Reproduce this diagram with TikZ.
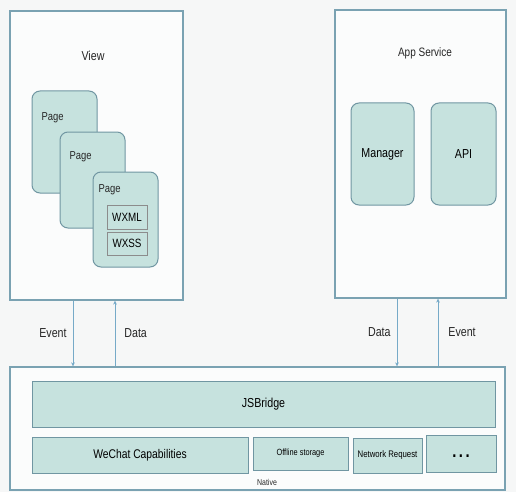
\documentclass[tikz,border=0pt]{standalone}
\usepackage{fontspec}
\setmainfont{Liberation Sans}[FakeStretch=0.82]
\usetikzlibrary{arrows.meta,calc}
\definecolor{frame}{RGB}{122,162,178}
\definecolor{cell}{RGB}{198,226,222}
\definecolor{celledge}{RGB}{112,150,162}
\definecolor{wire}{RGB}{118,170,200}
\definecolor{paper}{RGB}{246,247,247}

\begin{document}
\begin{tikzpicture}[
  x=1pt, y=-1pt,
  font=\fontsize{13}{15}\selectfont,
  >={Stealth[length=4pt,width=3.6pt]},
  outer/.style   ={rectangle, draw=frame, line width=1.3pt, fill=white!60!paper, inner sep=0pt},
  pagebox/.style ={rectangle, rounded corners=8pt, draw=celledge, line width=1pt, fill=cell, inner sep=0pt},
  tagbox/.style  ={rectangle, draw=black!45, line width=0.9pt, fill=cell, inner sep=0pt, minimum width=40pt},
  native/.style  ={rectangle, draw=celledge, line width=1pt, fill=cell, inner sep=0pt},
  lbl/.style     ={inner sep=0pt, text=black!85},
  pglbl/.style   ={lbl, anchor=west, font=\fontsize{11.5}{13}\selectfont},
  flow/.style    ={->, draw=wire, line width=0.8pt},
]
\useasboundingbox[fill=paper] (0,0) rectangle (516,492);
% upper layers
\node[outer, minimum width=173pt, minimum height=289pt] (view) at (96.5,155.5) {};
\node[lbl] (viewlbl) at (93,56) {View};
\node[outer, minimum width=171pt, minimum height=288pt] (app) at (420.5,154) {};
\node[lbl, font=\fontsize{12.2}{14}\selectfont] (applbl) at (425,53) {App Service};
% pages
\node[pagebox, minimum width=65pt, minimum height=102pt] (page1) at (64.5,142) {};
\node[pglbl] (page1lbl) at ([shift={(10pt,-27pt)}]page1.north west) {Page};
\node[pagebox, minimum width=65pt, minimum height=96pt] (page2) at (92.5,180) {};
\node[pglbl] (page2lbl) at ([shift={(10pt,-25pt)}]page2.north west) {Page};
\node[pagebox, minimum width=65pt, minimum height=95pt] (page3) at (125.5,219.5) {};
\node[pglbl] (page3lbl) at ([shift={(6pt,-18pt)}]page3.north west) {Page};
\node[tagbox, minimum height=24pt, font=\fontsize{12}{14}\selectfont] (wxml) at (127,217) {WXML};
\node[tagbox, minimum height=23pt, font=\fontsize{12}{14}\selectfont] (wxss) at (127,243.5) {WXSS};
% app service modules
\node[pagebox, minimum width=63pt, minimum height=102pt] (manager) at (382.5,154) {Manager};
\node[pagebox, minimum width=65pt, minimum height=102pt] (api) at (463.5,154) {API};
% native layer
\node[outer, minimum width=495pt, minimum height=123pt] (base) at (257.5,428.5) {};
\node[native, minimum width=463pt, minimum height=46pt] (bridge) at (263.5,404) {JSBridge};
\node[native, minimum width=216pt, minimum height=36pt, font=\fontsize{12.6}{14}\selectfont] (wechat) at (140,455) {WeChat Capabilities};
\node[native, minimum width=95pt, minimum height=33pt, font=\fontsize{9}{10}\selectfont] (offline) at (300.5,453.5) {Offline storage};
\node[native, minimum width=69pt, minimum height=35pt, font=\fontsize{9.5}{10}\selectfont] (network) at (387.5,455.5) {Network Request};
\node[native, minimum width=70pt, minimum height=37pt, font=\fontsize{18}{18}\bfseries] (more) at (461,453.5) {\raisebox{-8pt}{.\hspace{2.5pt}.\hspace{2.5pt}.}};
\node[lbl, font=\fontsize{8.5}{9}\selectfont] (nativelbl) at (267,482) {Native};
% messages
\draw[flow] ([xshift=-23.5pt]view.south) -- ([xshift=-23.5pt]view.south |- base.north)
  node[midway, left=6pt, lbl] (evtl) {Event};
\draw[flow] ([xshift=18.5pt]view.south |- base.north) -- ([xshift=18.5pt]view.south)
  node[midway, right=9pt, lbl] (datl) {Data};
\draw[flow] ([xshift=-23.5pt]app.south) -- ([xshift=-23.5pt]app.south |- base.north)
  node[midway, left=6pt, lbl] (datr) {Data};
\draw[flow] ([xshift=17.5pt]app.south |- base.north) -- ([xshift=17.5pt]app.south)
  node[midway, right=10pt, lbl] (evtr) {Event};
\end{tikzpicture}
\end{document}
